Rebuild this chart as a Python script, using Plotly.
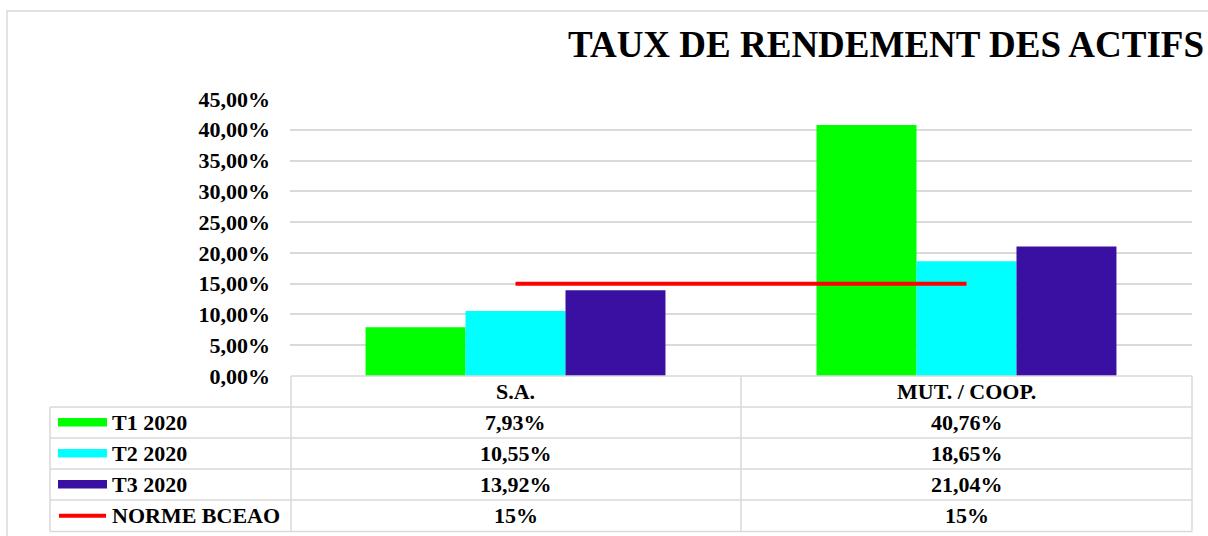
import plotly.graph_objects as go

categories = ["S.A.", "MUT. / COOP."]
series_names = ["T1 2020", "T2 2020", "T3 2020"]
t1_values = [7.93, 40.76]
t2_values = [10.55, 18.65]
t3_values = [13.92, 21.04]
norme_name = "NORME BCEAO"
norme_values = [15, 15]
y_tickvals = [0, 5, 10, 15, 20, 25, 30, 35, 40, 45]
title_text = "TAUX DE RENDEMENT DES ACTIFS"

colors = ["#00FF00", "#00FFFF", "#3A10A2"]
red = "#FF0000"
grid = "#D9D9D9"
FONT = "Liberation Serif"

W, H = 1208, 536
L, R, T, B = 290, 16, 99, 160
PW = W - L - R
PH = H - T - B

def px(X):
    return (X - L) / PW

def py(Y):
    return (H - B - Y) / PH

def fmt(v, dec=2):
    if dec == 0:
        return "%d%%" % round(v)
    return ("%.2f%%" % v).replace(".", ",")

fig = go.Figure()
for name, vals, c in zip(series_names, [t1_values, t2_values, t3_values], colors):
    fig.add_trace(go.Bar(x=categories, y=vals, name=name, marker=dict(color=c, line=dict(width=0))))
fig.add_trace(go.Scatter(x=categories, y=norme_values, name=norme_name, mode="lines",
                         line=dict(color=red, width=4)))

shapes = []
annotations = []
shapes.append(dict(type="rect", xref="paper", yref="paper", x0=px(7), x1=px(1230), y0=py(11), y1=py(560),
                   line=dict(color=grid, width=1.5), layer="below"))
row_tops = [376, 407, 438, 469, 500, 531.5]
col_x = [50, 291, 741, 1192]
for i, yv in enumerate(row_tops):
    x0 = col_x[1] if i == 0 else col_x[0]
    shapes.append(dict(type="line", xref="paper", yref="paper", x0=px(x0), x1=px(col_x[3]), y0=py(yv), y1=py(yv),
                       line=dict(color=grid, width=1.5)))
shapes.append(dict(type="line", xref="paper", yref="paper", x0=px(col_x[0]), x1=px(col_x[0]), y0=py(row_tops[1]), y1=py(row_tops[-1]),
                   line=dict(color=grid, width=1.5)))
for xv in col_x[1:]:
    shapes.append(dict(type="line", xref="paper", yref="paper", x0=px(xv), x1=px(xv), y0=py(row_tops[0]), y1=py(row_tops[-1]),
                       line=dict(color=grid, width=1.5)))

tfont = dict(family=FONT, size=22, color="black")
for j, cat in enumerate(categories):
    annotations.append(dict(text="<b>%s</b>" % cat, x=j, xref="x", y=py((row_tops[0] + row_tops[1]) / 2), yref="paper",
                            showarrow=False, font=tfont, xanchor="center", yanchor="middle"))

rows = [(series_names[0], t1_values, 2), (series_names[1], t2_values, 2), (series_names[2], t3_values, 2), (norme_name, norme_values, 0)]
for i, (name, vals, dec) in enumerate(rows):
    yc = (row_tops[i + 1] + row_tops[i + 2]) / 2
    annotations.append(dict(text="<b>%s</b>" % name, x=px(110), xref="paper", y=py(yc), yref="paper",
                            showarrow=False, font=tfont, xanchor="left", yanchor="middle"))
    for j, v in enumerate(vals):
        annotations.append(dict(text="<b>%s</b>" % fmt(v, dec), x=j, xref="x", y=py(yc), yref="paper",
                                showarrow=False, font=tfont, xanchor="center", yanchor="middle"))
    if i < 3:
        shapes.append(dict(type="rect", xref="paper", yref="paper", x0=px(58), x1=px(107), y0=py(yc - 4.5), y1=py(yc + 4),
                           fillcolor=colors[i], line=dict(width=0)))
    else:
        shapes.append(dict(type="line", xref="paper", yref="paper", x0=px(59), x1=px(106), y0=py(yc), y1=py(yc),
                           line=dict(color=red, width=4)))

annotations.append(dict(text="<b>%s</b>" % title_text, x=px(1206), xref="paper", y=py(45), yref="paper",
                        showarrow=False, font=dict(family=FONT, size=37, color="black"), xanchor="right", yanchor="middle"))

fig.update_layout(
    width=W, height=H,
    margin=dict(l=L, r=R, t=T, b=B, autoexpand=False),
    paper_bgcolor="white", plot_bgcolor="white",
    barmode="group", bargap=0.335, bargroupgap=0,
    showlegend=False,
    shapes=shapes, annotations=annotations,
    xaxis=dict(type="category", range=[-0.5, 1.5], showticklabels=False, showgrid=False, zeroline=False, showline=False),
    yaxis=dict(range=[0, 45], tickmode="array", tickvals=y_tickvals, ticktext=["<b>%s</b>" % fmt(v) for v in y_tickvals],
               showgrid=True, gridcolor=grid,
               gridwidth=1.5, zeroline=False, showline=False, ticklabelstandoff=19,
               tickfont=dict(family=FONT, size=22, color="black")),
    font=dict(family=FONT, color="black"),
)
fig.write_html("out.html", config={"displayModeBar": False}, post_script="document.body.style.margin='0px';")
